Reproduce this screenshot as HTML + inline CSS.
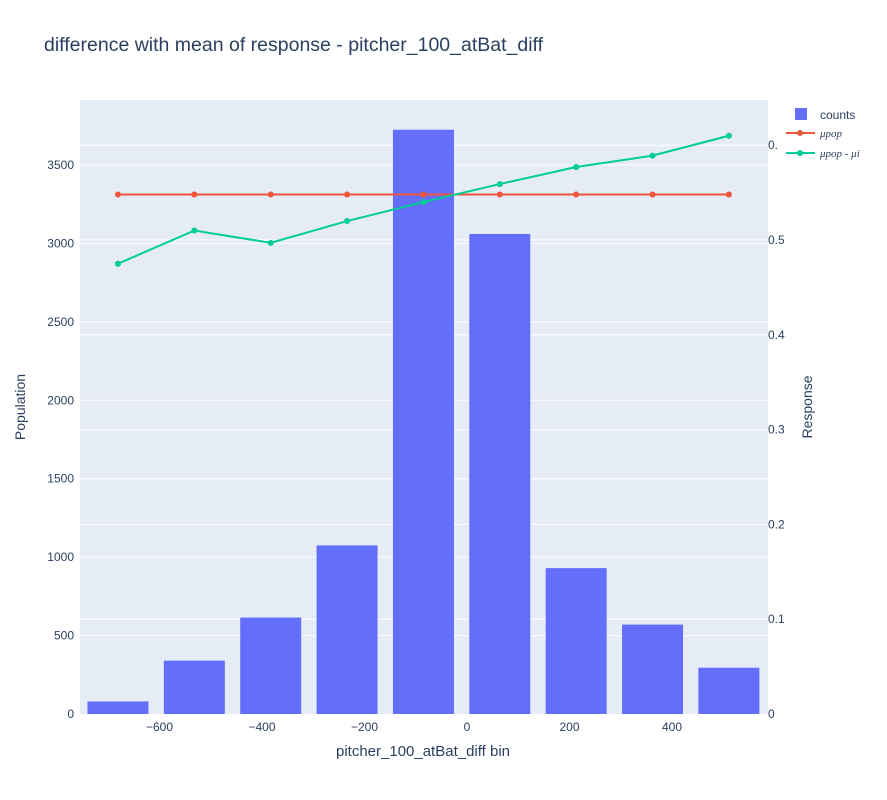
<!DOCTYPE html>
<html><head><meta charset="utf-8"><style>
body{margin:0;background:#fff;font-family:"Liberation Sans",sans-serif;}
svg text{font-family:"Liberation Sans",sans-serif;fill:#2a3f5f;}
</style></head><body>
<svg id="chart" width="887" height="795">
<text x="44" y="51" font-size="19.5">difference with mean of response - pitcher_100_atBat_diff</text>
<rect x="80" y="100" width="688" height="614" fill="#e5ecf6"/>
<g id="grid"></g><g id="bars"></g><g id="lines"></g><g id="axes"></g>
<text x="423" y="756" font-size="15" text-anchor="middle">pitcher_100_atBat_diff bin</text>
<text transform="translate(25,407) rotate(-90)" font-size="14" text-anchor="middle">Population</text>
<text transform="translate(812,407) rotate(-90)" font-size="14" text-anchor="middle">Response</text>
<g>
<rect x="795" y="108" width="12" height="12" fill="#636efa"/>
<text x="820" y="119" font-size="12">counts</text>
<line x1="786" y1="133" x2="815" y2="133" stroke="#ef553b" stroke-width="2"/><circle cx="800" cy="133" r="3" fill="#ef553b"/>
<text x="820" y="137" font-size="11" font-style="italic" style="font-family:'Liberation Serif',serif">μpop</text>
<line x1="786" y1="153" x2="815" y2="153" stroke="#00cc96" stroke-width="2"/><circle cx="800" cy="153" r="3" fill="#00cc96"/>
<text x="820" y="157" font-size="11" font-style="italic" style="font-family:'Liberation Serif',serif">μpop - μi</text>
</g>
</svg>
<script>
const binCenters=[-681,-532,-383,-234,-85,64,213,362,511];
const counts=[80,340,615,1075,3725,3060,930,570,295];
const meanPop=[0.548,0.548,0.548,0.548,0.548,0.548,0.548,0.548,0.548];
const meanDiff=[0.475,0.51,0.497,0.52,0.54,0.559,0.577,0.589,0.61];
const xTicks=[-600,-400,-200,0,200,400];
const yTicks=[0,500,1000,1500,2000,2500,3000,3500];
const y2Ticks=[0,0.1,0.2,0.3,0.4,0.5,0.6];
const binWidth=119;
const NS="http://www.w3.org/2000/svg";
const X=v=>467+v*0.5125, Y=v=>714-v*0.15686, Y2=v=>714-v*948;
function mk(t,a,p){const e=document.createElementNS(NS,t);for(const k in a)e.setAttribute(k,a[k]);document.getElementById(p).appendChild(e);return e;}
yTicks.forEach(t=>{if(t>0){const l=mk('line',{x1:80,x2:768,y1:Y(t),y2:Y(t),stroke:'#fff','stroke-width':1},'grid');

}
const tx=mk('text',{x:74,y:Y(t)+4,'font-size':12,'text-anchor':'end'},'axes');tx.textContent=t;

});
y2Ticks.forEach(t=>{if(t>0){const l=mk('line',{x1:80,x2:768,y1:Y2(t),y2:Y2(t),stroke:'#fff','stroke-width':1},'grid');

}
const tx=mk('text',{x:768,y:Y2(t)+4,'font-size':12},'axes');tx.textContent=t===0?'0':(t>=0.6?'0.':t.toFixed(1));

});
xTicks.forEach(t=>{
const tx=mk('text',{x:X(t),y:731,'font-size':12,'text-anchor':'middle'},'axes');tx.textContent=t<0?'−'+(-t):t;

});
binCenters.forEach((c,i)=>{const r=mk('rect',{x:X(c-binWidth/2),width:binWidth*0.5125,y:Y(counts[i]),height:Y(0)-Y(counts[i]),fill:'#636efa'},'bars');

});
function series(vals,col,name){const p=mk('polyline',{points:binCenters.map((c,i)=>X(c)+','+Y2(vals[i])).join(' '),fill:'none',stroke:col,'stroke-width':2},'lines');


binCenters.forEach((c,i)=>{const d=mk('circle',{cx:X(c),cy:Y2(vals[i]),r:3,fill:col},'lines');

});}
series(meanPop,'#ef553b','mean-pop');
series(meanDiff,'#00cc96','mean-diff');
</script>
</body></html>
